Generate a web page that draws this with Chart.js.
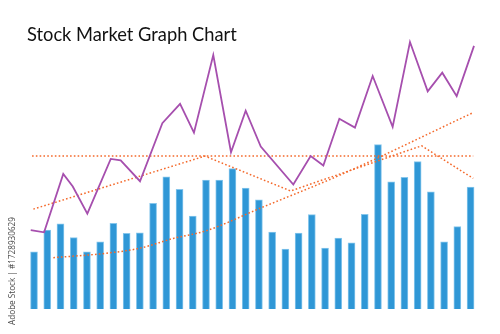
<!DOCTYPE html>
<html>
<head>
<meta charset="utf-8">
<script src="https://cdn.jsdelivr.net/npm/chart.js@4/dist/chart.umd.min.js"></script>
<style>
	html, body { margin: 0; padding: 0; background: #ffffff; }
	#wrap { width: 500px; height: 334px; position: relative; }
</style>
</head>
<body>
<div id="wrap"><canvas id="chart" width="500" height="334"></canvas></div>
<script>
// daily volume bars (one per trading day, day 0..33)
var volume = [20.5, 28.3, 30.5, 25.6, 20.5, 24.1, 30.7, 27.1, 27.3, 37.9,
	47.4, 42.9, 33.3, 46.2, 46.2, 50.3, 43.3, 39.1, 27.6, 21.5,
	27.2, 33.8, 21.8, 25.4, 23.7, 33.9, 58.9, 45.6, 47.2, 52.8,
	42.0, 24.1, 29.5, 43.7];

// price line (days are not evenly spaced)
var priceDays = [-0.25, 0.76, 2.21, 2.93, 4.03, 5.80, 6.55, 8.01, 9.70, 11.04,
	12.09, 13.55, 14.89, 16.00, 17.14, 19.60, 20.91, 21.87, 23.08, 24.26,
	25.60, 27.11, 28.42, 29.76, 30.86, 31.95, 33.26];
var priceValues = [28.3, 27.5, 48.4, 43.9, 34.2, 53.8, 53.3, 45.8, 66.6, 73.5,
	63.2, 91.0, 56.2, 71.1, 58.2, 44.6, 54.8, 51.4, 68.2, 65.0,
	83.5, 65.3, 95.7, 78.0, 84.7, 76.3, 94.3];

// horizontal resistance level
var levelDays = [-0.15, 33.2];
var levelValues = [54.8, 54.8];

// zig-zag trend
var trendDays = [-0.05, 12.92, 19.40, 29.30, 33.2];
var trendValues = [35.8, 54.8, 42.3, 58.5, 46.8];

// rising average curve
var avgDays = [1.46, 5.50, 8.01, 10.53, 13.05, 17.08, 23.13, 33.2];
var avgValues = [18.4, 20.0, 21.8, 25.3, 28.1, 36.1, 48.0, 70.4];

function pts(xs, ys) {
	return xs.map(function(x, i) { return { x: x, y: ys[i] }; });
}

var orange = '#f4692b';
var dotted = [1.6, 2.2];

// title and side text
var textPlugin = {
	id: 'texts',
	afterDraw: function(chart) {
		var ctx = chart.ctx;
		ctx.save();
		// title, fitted to the width in the picture
		var title = 'Stock Market Graph Chart';
		ctx.font = '18px Lato';
		var w = ctx.measureText(title).width;
		var size = 18 * 210 / w;
		ctx.font = size.toFixed(2) + 'px Lato';
		ctx.fillStyle = '#111111';
		ctx.textAlign = 'left';
		ctx.textBaseline = 'alphabetic';
		ctx.fillText(title, 27, 41);

		// vertical side text
		var side = 'Adobe Stock | #1728930629';
		ctx.font = '10px "Open Sans"';
		var sw = ctx.measureText(side).width;
		var ss = 10 * 108 / sw;
		ctx.font = ss.toFixed(2) + 'px "Open Sans"';
		ctx.translate(15, 271);
		ctx.rotate(-Math.PI / 2);
		ctx.textAlign = 'center';
		ctx.fillStyle = '#4a4a4a';
		ctx.fillText(side, 0, 0);
		ctx.restore();
	}
};

var chart = new Chart(document.getElementById('chart'), {
	type: 'bar',
	data: {
		datasets: [
			{
				type: 'line', label: 'price', order: 1,
				data: pts(priceDays, priceValues),
				borderColor: '#a64fae', borderWidth: 1.8,
				pointRadius: 0, tension: 0
			},
			{
				type: 'line', label: 'level', order: 2,
				data: pts(levelDays, levelValues),
				borderColor: orange, borderWidth: 1.5, borderDash: dotted,
				pointRadius: 0
			},
			{
				type: 'line', label: 'trend', order: 2,
				data: pts(trendDays, trendValues),
				borderColor: orange, borderWidth: 1.5, borderDash: dotted,
				pointRadius: 0, tension: 0
			},
			{
				type: 'line', label: 'average', order: 2,
				data: pts(avgDays, avgValues),
				borderColor: orange, borderWidth: 1.5, borderDash: dotted,
				pointRadius: 0, cubicInterpolationMode: 'monotone'
			},
			{
				type: 'bar', label: 'volume', order: 10,
				data: volume.map(function(v, i) { return { x: i, y: v }; }),
				backgroundColor: '#2f97d6', borderColor: '#86c6ec',
				borderWidth: 1, borderSkipped: 'bottom', barThickness: 7
			}
		]
	},
	options: {
		responsive: false,
		animation: false,
		layout: { padding: { left: 20.8, right: 16.2, top: 30, bottom: 25 } },
		scales: {
			x: { type: 'linear', min: -1, max: 34, offset: false, display: false },
			y: { min: 0, max: 100, display: false }
		},
		plugins: {
			legend: { display: false },
			tooltip: { enabled: false }
		}
	},
	plugins: [textPlugin]
});
</script>
</body>
</html>
